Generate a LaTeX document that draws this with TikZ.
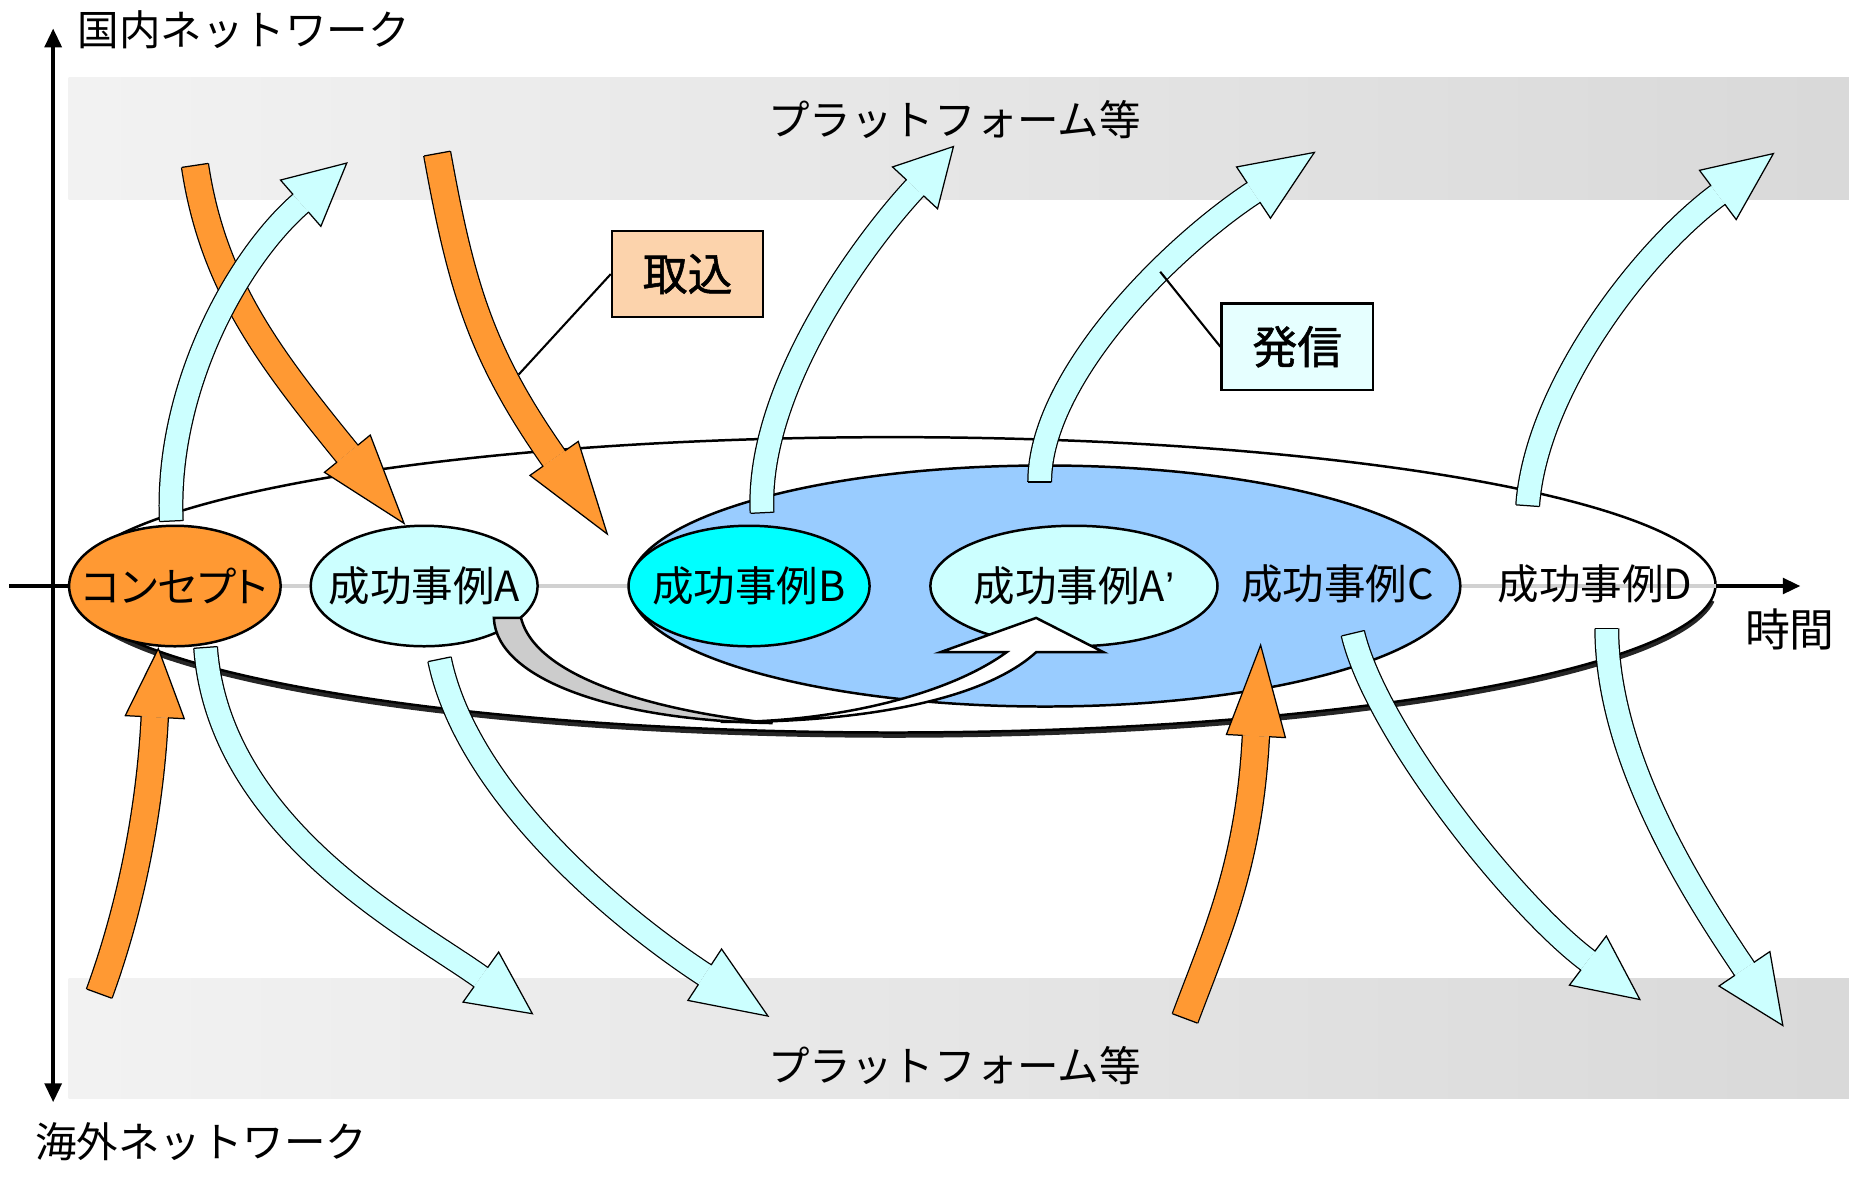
\documentclass[tikz,border=0pt]{standalone}
\usepackage{fontspec}
\setmainfont{Noto Sans CJK JP}
\newfontfamily\propfont{Noto Sans CJK JP}[RawFeature=+palt]
\newfontfamily\boxfont{Noto Sans CJK JP}[FakeBold=1.2]
\newfontfamily\latinfont{Liberation Sans}
\usetikzlibrary{shapes.geometric,arrows.meta,calc}

\definecolor{arrorange}{HTML}{FF9933}
\definecolor{arrcyan}{HTML}{CCFFFF}
\definecolor{caseblue}{HTML}{99CCFF}
\definecolor{casecyan}{HTML}{00FFFF}
\definecolor{intakefill}{HTML}{FCD3AC}
\definecolor{sendfill}{HTML}{E6FFFF}

\tikzset{
  caseell/.style={ellipse, draw, line width=0.6pt, inner sep=0pt, minimum height=10.2mm},
  callout/.style={draw, line width=0.6pt, minimum width=12.8mm, minimum height=7.3mm,
    font={\boxfont\fontsize{10.8}{13}\selectfont}},
  axistip/.style={line width=1pt},
}

% band with head: fill, band width, half band, half head, start, bend, base, tip
\newcommand{\fatarrow}[8]{%
  \draw[line width=0.3pt, double=#1, double distance=#2]
    (#5) .. controls (#6) and ($(#7)!-1.4!(#8)$) .. (#7);
  \fill[#1] ($(#7)!#4!90:(#8)$) -- (#8) -- ($(#7)!#4!-90:(#8)$) -- cycle;
  \draw[line width=0.3pt] ($(#7)!#3!90:(#8)$) -- ($(#7)!#4!90:(#8)$) -- (#8)
    -- ($(#7)!#4!-90:(#8)$) -- ($(#7)!#3!-90:(#8)$);
  \draw[line width=0.3pt] ($(#5)!#3!90:(#6)$) -- ($(#5)!#3!-90:(#6)$);
}
\newcommand{\inarrow}[4]{\fatarrow{arrorange}{2.2mm}{1.12mm}{2.5mm}{#1}{#2}{#3}{#4}}
\newcommand{\outarrow}[4]{\fatarrow{arrcyan}{1.9mm}{0.97mm}{2.6mm}{#1}{#2}{#3}{#4}}

\begin{document}
\begin{tikzpicture}[x=0.1mm, y=-0.1mm, font=\fontsize{10}{12}\selectfont]
  \useasboundingbox (0,0) rectangle (1565,996.3);

  % platform bands
  \shade[left color=black!5, right color=black!15] (58,66) rectangle (1565,169);
  \shade[left color=black!5, right color=black!15] (58,828) rectangle (1565,930);
  \node (platformtop) at (808,101) {プラットフォーム等};
  \node (platformbottom) at (808,902) {プラットフォーム等};

  % axes
  \draw[axistip, {Triangle[length=1.6mm,width=1.4mm]}-{Triangle[length=1.6mm,width=1.4mm]}] (45,933) -- (45,24);
  \draw[axistip, -{Triangle[length=1.5mm,width=1.3mm]}] (8,496) -- (1524,496);
  \node[anchor=west, inner sep=0pt] (domestic) at (65,25) {国内ネットワーク};
  \node[anchor=west, inner sep=0pt] (overseas) at (29,966) {海外ネットワーク};
  \node[font=\fontsize{10.8}{13}\selectfont] (timelabel) at (1515,533) {時間};

  % disc
  \draw[line width=1.1pt, black!85] ($(756,497.5)+(5:696 and 125)$) arc[start angle=5, end angle=175, x radius=696, y radius=125];
  \draw[fill=white, line width=0.6pt] (756,495) ellipse [x radius=696, y radius=125];
  \draw[line width=1pt, black!18] (60,496) -- (1452,496);
  \draw[fill=caseblue, line width=0.6pt] (884.5,496) ellipse [x radius=351.5, y radius=102];

  \node[caseell, fill=arrorange, minimum width=17.9mm] (concept) at (148,496) {\makebox[0pt]{\propfont コンセプト}};
  \node[caseell, fill=arrcyan, minimum width=19.2mm] (caseA) at (359,496) {\makebox[0pt]{成功事例A}};
  \node[caseell, fill=casecyan, minimum width=20.4mm] (caseB) at (634,496) {\makebox[0pt]{成功事例B}};
  \node[caseell, fill=arrcyan, minimum width=24.3mm] (caseAp) at (909,496) {\makebox[0pt]{成功事例A{\latinfont ’}}};
  \node (caseC) at (1132,494) {成功事例C};
  \node (caseD) at (1350,494) {成功事例D};

  % A to A'
  \filldraw[fill=black!20, line width=0.6pt] (418,523) .. controls (420,575) and (520,610) .. (654,612)
    .. controls (580,605) and (455,580) .. (441,523) -- cycle;
  \filldraw[fill=white, line width=0.6pt] (610,611) .. controls (700,612) and (800,590) .. (852,552)
    -- (796,552) -- (877,523) -- (934,552) -- (877,552)
    .. controls (830,595) and (720,612) .. (610,611) -- cycle;

  % taken in
  \inarrow{165,140}{180,240}{294,384}{342,443}
  \inarrow{370,130}{390,240}{469,388}{514,452}
  \inarrow{84,841}{110,770}{131,607}{134,549}
  \inarrow{1003,862}{1030,790}{1063,623}{1067,546}

  % sent out
  \outarrow{145,441}{140,330}{254.5,172}{293.5,138}
  \outarrow{645,434}{640,330}{774.5,159}{807,124}
  \outarrow{880,408}{880,320}{1061,163}{1112.5,129}
  \outarrow{1293,428}{1300,330}{1454,165}{1501,130}
  \outarrow{174,548}{185,700}{407,827}{450.6,858}
  \outarrow{372,558}{395,670}{596.5,825}{650,860}
  \outarrow{1145,536}{1165,620}{1344,813}{1388,846}
  \outarrow{1360,532}{1360,640}{1476.5,820}{1509,868}

  % callouts
  \node[callout, fill=intakefill] (intake) at (582,232) {取込};
  \coordinate (intakept) at (439,317);
  \draw[line width=0.5pt] (intake.west) -- (intakept);
  \node[callout, fill=sendfill] (send) at (1098,293.5) {発信};
  \coordinate (sendpt) at (982,230);
  \draw[line width=0.5pt] (send.west) -- (sendpt);
\end{tikzpicture}
\end{document}
